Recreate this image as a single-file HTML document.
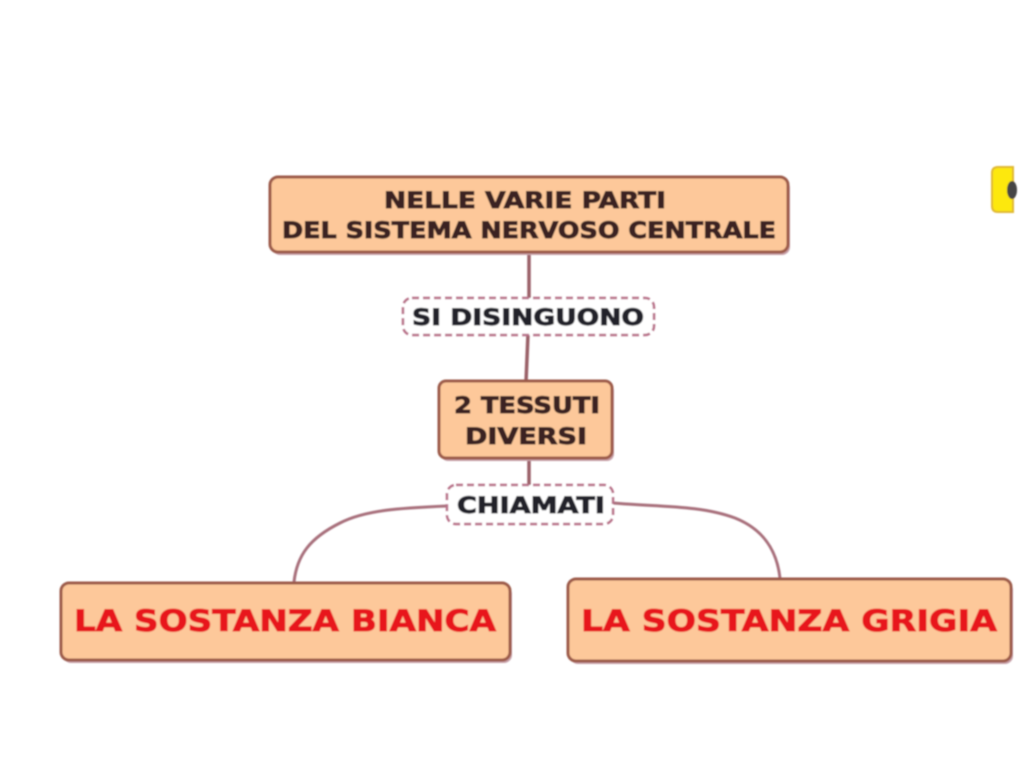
<!DOCTYPE html>
<html><head><meta charset="utf-8"><style>
html,body{margin:0;padding:0;background:#fff}
svg{display:block}
text{font-family:"DejaVu Sans","Liberation Sans",sans-serif;font-weight:bold;text-anchor:middle;stroke-width:0.9;paint-order:stroke}
</style></head><body>
<svg width="1024" height="768" viewBox="0 0 1024 768" xmlns="http://www.w3.org/2000/svg">
<defs><filter id="b" x="-5%" y="-5%" width="110%" height="110%"><feGaussianBlur stdDeviation="0.8"/></filter></defs>
<rect width="1024" height="768" fill="#fff"/>
<g filter="url(#b)">
<path d="M529 252V298M528 334L526 382M529 458V486" stroke="#9a6068" stroke-width="3.5" fill="none"/>
<path d="M447 506C400 508 365 510 340 523C310 538 297 555 294 582" stroke="#a8707c" stroke-width="3" fill="none"/>
<path d="M613 503C660 507 700 505 735 518C765 530 777 552 780 578" stroke="#a8707c" stroke-width="3" fill="none"/>

<rect x="272" y="180" width="518" height="75" rx="8" fill="#c8a0a8"/>
<rect x="441" y="384" width="173" height="77" rx="7" fill="#c8a0a8"/>
<rect x="63" y="586" width="449" height="77" rx="8" fill="#c8a0a8"/>
<rect x="570" y="582" width="443" height="82" rx="8" fill="#c8a0a8"/>

<rect x="270" y="177" width="518" height="75" rx="8" fill="#fdc89a" stroke="#9c5a48" stroke-width="3"/>
<rect x="439" y="381" width="173" height="77" rx="7" fill="#fdc89a" stroke="#9c5a48" stroke-width="3"/>
<rect x="61" y="583" width="449" height="77" rx="8" fill="#fdc89a" stroke="#9c5a48" stroke-width="3"/>
<rect x="568" y="579" width="443" height="82" rx="8" fill="#fdc89a" stroke="#9c5a48" stroke-width="3"/>

<rect x="403" y="298" width="251" height="37" rx="9" fill="#fff" stroke="#b87088" stroke-width="2.5" stroke-dasharray="7 4"/>
<rect x="447" y="485" width="166" height="39" rx="9" fill="#fff" stroke="#b87088" stroke-width="2.5" stroke-dasharray="7 4"/>

<path d="M1013 167H998Q992 167 992 173V206Q992 212 998 212H1013Z" fill="#fde810" stroke="#e0b830" stroke-width="2"/>
<ellipse cx="1012" cy="190" rx="5" ry="9" fill="#444"/>

<text x="525" y="208" font-size="22" fill="#3a2420" stroke="#3a2420" textLength="282" lengthAdjust="spacingAndGlyphs">NELLE VARIE PARTI</text>
<text x="529" y="238" font-size="22" fill="#3a2420" stroke="#3a2420" textLength="494" lengthAdjust="spacingAndGlyphs">DEL SISTEMA NERVOSO CENTRALE</text>
<text x="528" y="325" font-size="22" fill="#22222c" stroke="#22222c" textLength="232" lengthAdjust="spacingAndGlyphs">SI DISINGUONO</text>
<text x="527" y="413" font-size="22" fill="#3a2420" stroke="#3a2420" textLength="146" lengthAdjust="spacingAndGlyphs">2 TESSUTI</text>
<text x="526" y="444" font-size="22" fill="#3a2420" stroke="#3a2420" textLength="122" lengthAdjust="spacingAndGlyphs">DIVERSI</text>
<text x="531" y="513" font-size="22" fill="#22222c" stroke="#22222c" textLength="148" lengthAdjust="spacingAndGlyphs">CHIAMATI</text>
<text x="285" y="631" font-size="29" fill="#e8141c" stroke="#e8141c" textLength="422" lengthAdjust="spacingAndGlyphs">LA SOSTANZA BIANCA</text>
<text x="789" y="631" font-size="29" fill="#e8141c" stroke="#e8141c" textLength="416" lengthAdjust="spacingAndGlyphs">LA SOSTANZA GRIGIA</text>
</g>
</svg>
</body></html>
